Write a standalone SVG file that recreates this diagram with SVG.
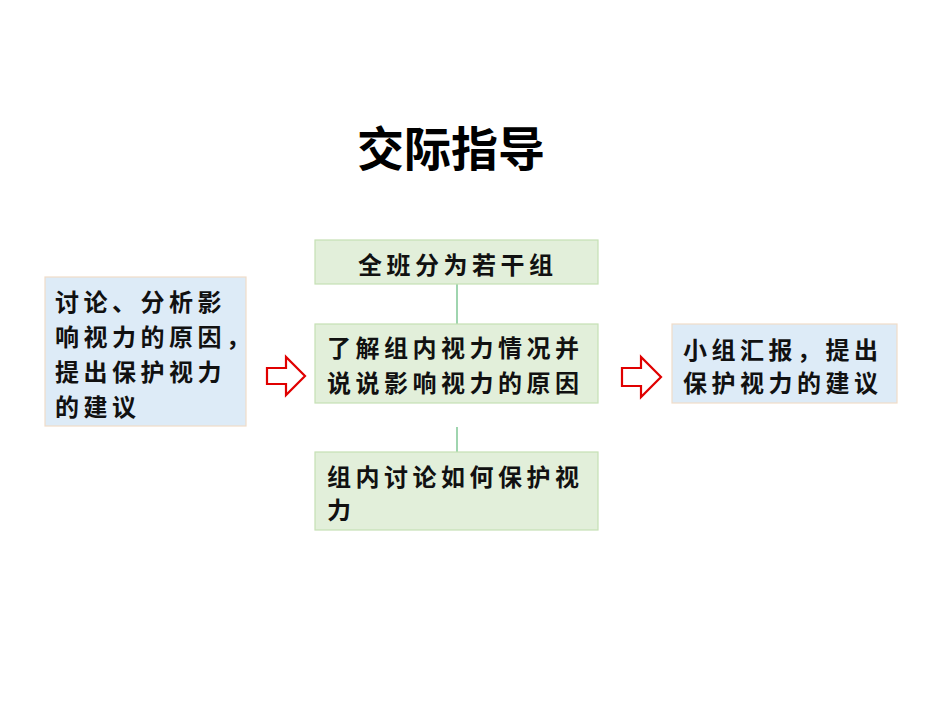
<svg xmlns="http://www.w3.org/2000/svg" width="950" height="713" viewBox="0 0 950 713">
<style>
.t{font-family:"Noto Sans CJK SC","Noto Sans",sans-serif;font-size:24px;font-weight:bold;letter-spacing:4.5px;fill:#111}
.blue{fill:#ddebf7;stroke:#f0dcc8;stroke-width:1.2}
.green{fill:#e2efda;stroke:#c5e0b4;stroke-width:1.2}
.conn{stroke:#6cbf84;stroke-width:1.3;fill:none}
.arr{fill:#fff;stroke:#e00000;stroke-width:2.2;stroke-linejoin:miter}
</style>
<rect width="950" height="713" fill="#fff"/>
<text x="451" y="166" text-anchor="middle" font-family="'Noto Sans CJK SC',sans-serif" font-size="47" font-weight="bold" fill="#000">交际指导</text>
<g id="connectors">
<line class="conn" x1="457" y1="284" x2="457" y2="324"/>
<line class="conn" x1="457" y1="427" x2="457" y2="452"/>
<path class="arr" d="M267,368 H286 V357 L305,376 L286,395 V384 H267 Z"/>
<path class="arr" d="M622,368 H641 V357 L661,377 L641,397 V386 H622 Z"/>
</g>
<g id="left">
<rect class="blue" x="45" y="277" width="201" height="149"/>
<text class="t" x="55" y="311">讨论、分析影</text>
<text class="t" x="55" y="346">响视力的原因，</text>
<text class="t" x="55" y="381">提出保护视力</text>
<text class="t" x="55" y="416">的建议</text>
</g>
<g id="top">
<rect class="green" x="315" y="240" width="283" height="44"/>
<text class="t" x="358" y="274">全班分为若干组</text>
</g>
<g id="middle">
<rect class="green" x="315" y="324" width="283" height="79"/>
<text class="t" x="327" y="357">了解组内视力情况并</text>
<text class="t" x="327" y="392">说说影响视力的原因</text>
</g>
<g id="bottom">
<rect class="green" x="315" y="452" width="283" height="78"/>
<text class="t" x="327" y="486">组内讨论如何保护视</text>
<text class="t" x="327" y="519">力</text>
</g>
<g id="right">
<rect class="blue" x="672" y="324" width="225" height="79"/>
<text class="t" x="683" y="359">小组汇报，提出</text>
<text class="t" x="683" y="392">保护视力的建议</text>
</g>
</svg>
